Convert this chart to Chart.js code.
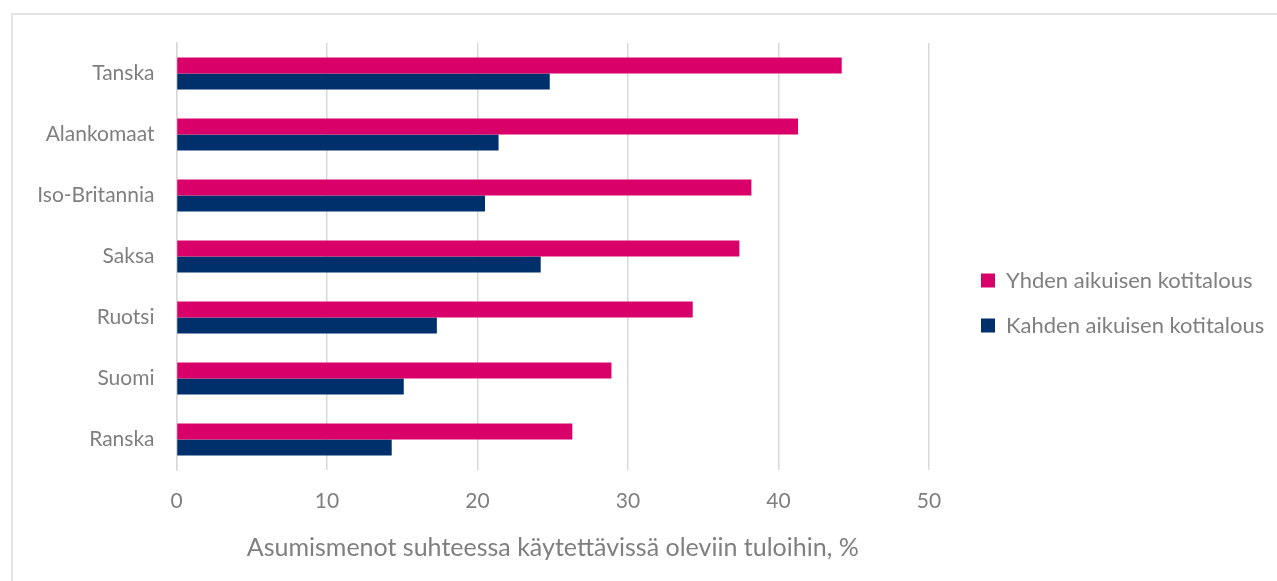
<!DOCTYPE html>
<html>
<head>
<meta charset="utf-8">
<script src="https://cdn.jsdelivr.net/npm/chart.js@4"></script>
<style>
  html, body { margin: 0; padding: 0; background: #fff; }
  #wrap { position: relative; width: 1277px; height: 581px; overflow: hidden; }
  #frame { position: absolute; left: 11px; top: 13px; width: 1300px; height: 620px; border: 2px solid #e3e3e3; border-radius: 2px; }
  #c { position: absolute; left: 0; top: 0; }
</style>
</head>
<body>
<div id="wrap">
  <div id="frame"></div>
  <canvas id="c" width="1277" height="581"></canvas>
</div>
<script>
const categories = ['Tanska', 'Alankomaat', 'Iso-Britannia', 'Saksa', 'Ruotsi', 'Suomi', 'Ranska'];
const seriesNames = ['Yhden aikuisen kotitalous', 'Kahden aikuisen kotitalous'];
const singleAdult = [44.2, 41.3, 38.2, 37.4, 34.3, 28.9, 26.3];
const twoAdults = [24.8, 21.4, 20.5, 24.2, 17.3, 15.1, 14.3];
const xTicks = [0, 10, 20, 30, 40, 50];
const axisTitle = 'Asumismenot suhteessa käytettävissä oleviin tuloihin, %';

const FONT = 'Lato';
const GRAY = '#7f7f7f';
const LEGEND_WIDTH = 348;
const LEGEND_GAP = 29;
const LEGEND_SHIFT_Y = -9;

const legendPlacement = {
  id: 'legendPlacement',
  afterInit(chart) {
    const lg = chart.legend;
    if (!lg) return;
    const origFit = lg.fit.bind(lg);
    lg.fit = function () { origFit(); this.width = LEGEND_WIDTH; };
  },
  afterLayout(chart) {
    const lg = chart.legend;
    if (!lg) return;
    lg.left = chart.chartArea.right + LEGEND_GAP;
    lg.top += LEGEND_SHIFT_Y;
    lg.bottom += LEGEND_SHIFT_Y;
  }
};

new Chart(document.getElementById('c'), {
  type: 'bar',
  data: {
    labels: categories,
    datasets: [
      { label: seriesNames[0], data: singleAdult, backgroundColor: '#d9006a', borderWidth: 0 },
      { label: seriesNames[1], data: twoAdults, backgroundColor: '#00306b', borderWidth: 0 }
    ]
  },
  plugins: [legendPlacement],
  options: {
    indexAxis: 'y',
    responsive: false,
    animation: false,
    devicePixelRatio: 1,
    layout: { padding: { top: 43, left: 0, right: 0, bottom: 0 } },
    datasets: { bar: { barPercentage: 1, categoryPercentage: 0.525 } },
    scales: {
      x: {
        min: 0, max: 50,
        afterBuildTicks: (s) => { s.ticks = xTicks.map(v => ({ value: v })); },
        afterFit: (s) => { s.height = 111; },
        grid: { color: '#d9d9d9', lineWidth: 1.5, drawTicks: false },
        border: { display: false },
        ticks: { color: GRAY, font: { family: FONT, size: 21 }, padding: 19 },
        title: { display: true, text: axisTitle, color: GRAY, font: { family: FONT, size: 25 }, padding: { top: 10, bottom: 18 } }
      },
      y: {
        grid: { display: false, drawTicks: false },
        border: { display: true, color: '#d9d9d9', width: 1.5 },
        ticks: { color: GRAY, font: { family: FONT, size: 21 }, padding: 22 },
        afterFit: (s) => { s.width = 176.5; }
      }
    },
    plugins: {
      legend: {
        position: 'right',
        align: 'center',
        labels: { color: GRAY, font: { family: FONT, size: 22 }, boxWidth: 14, boxHeight: 14, padding: 23 }
      },
      tooltip: { enabled: false }
    }
  }
});
</script>
</body>
</html>
